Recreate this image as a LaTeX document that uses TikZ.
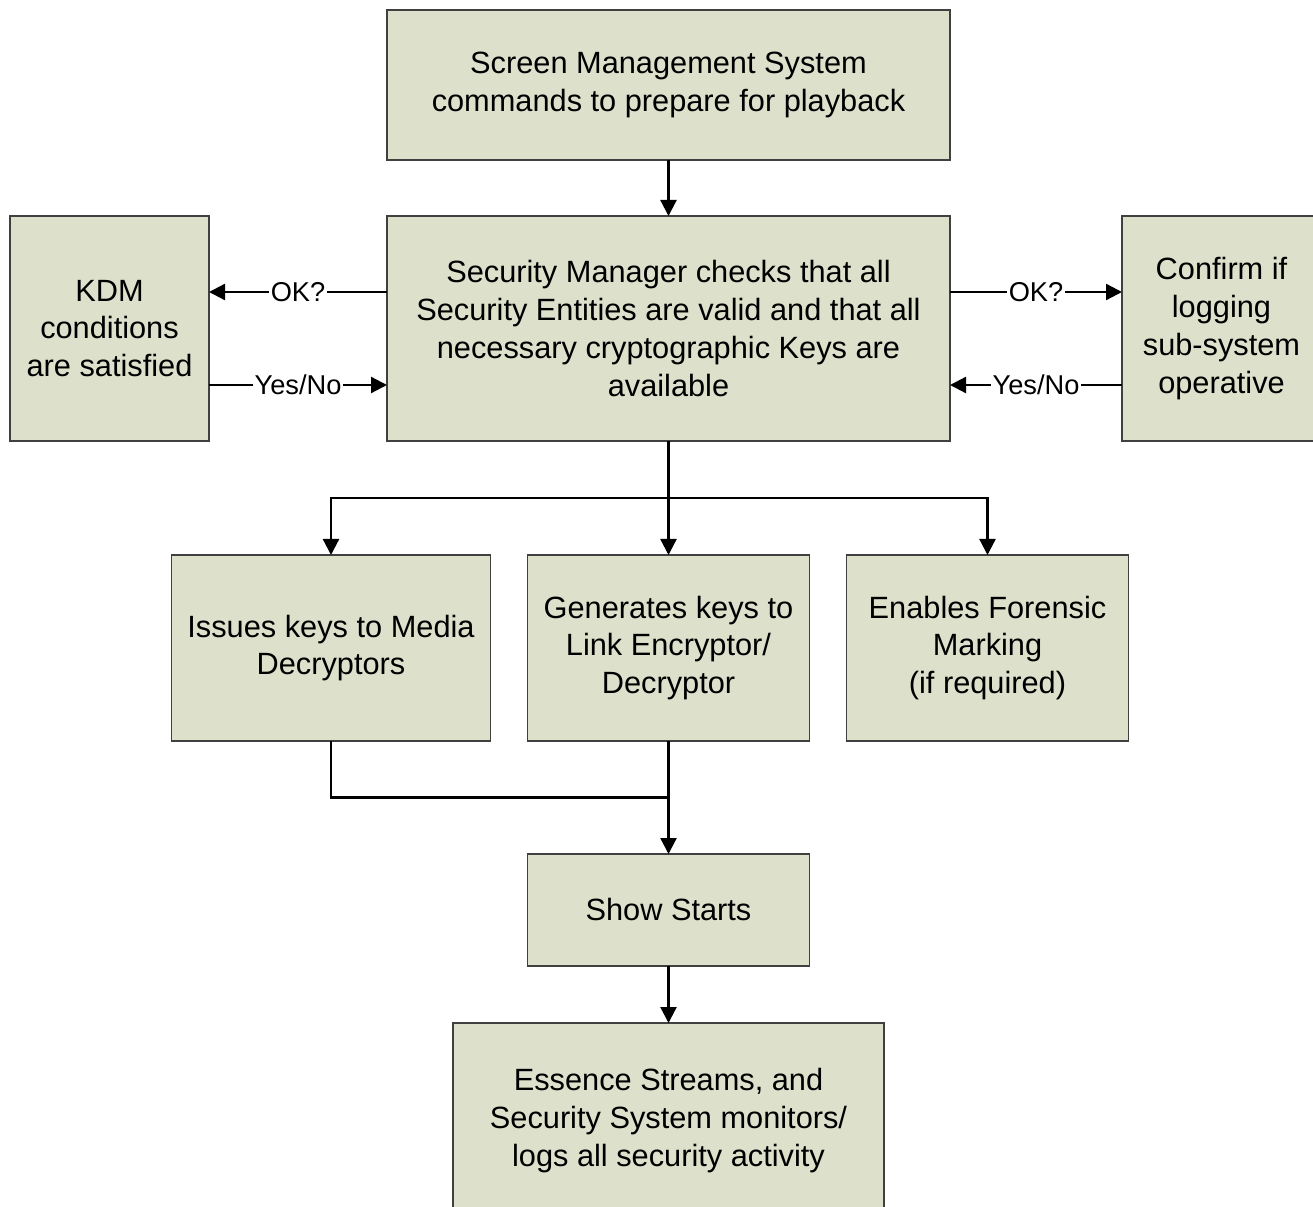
\documentclass[tikz,border=0pt]{standalone}
\usepackage{fontspec}
\setmainfont{Liberation Sans}
\usepackage{tikz}
\usetikzlibrary{arrows.meta,positioning,calc}
\usepackage{xcolor}
\definecolor{boxfill}{RGB}{221,224,203}
\definecolor{boxline}{RGB}{64,64,64}

\begin{document}
\begin{tikzpicture}[node distance=0mm, every node/.style={font=\fontsize{17.5}{21.5}\selectfont},
	stepbox/.style={draw=boxline,rectangle,fill=boxfill,line width=1.1pt,align=center,inner sep=2pt,outer sep=0pt},
	conn/.style={line width=1.3pt,black},
	arr/.style={conn,-{Triangle[length=3.2mm,width=3.2mm]}},
	lbl/.style={fill=white,inner sep=1pt,font=\fontsize{15.5}{17}\selectfont}]
				\useasboundingbox (0,0) rectangle (26.26,-24.14);
				
				% Preparazione
				\node[stepbox,minimum width=11.26cm,minimum height=3cm] (prep) at (13.37,-1.7) {Screen Management System\\commands to prepare for playback};
				
				% Security Manager
				\node[stepbox,below=1.12cm of prep,minimum width=11.26cm,minimum height=4.5cm] (check) {Security Manager checks that all\\Security Entities are valid and that all\\necessary cryptographic Keys are\\available};
				\node[stepbox,left=3.56cm of check,minimum width=3.98cm,minimum height=4.5cm] (kdm) {KDM\\conditions\\are satisfied};
				\node[stepbox,right=3.44cm of check,minimum width=3.98cm,minimum height=4.5cm] (log) {Confirm if\\logging\\sub-system\\operative};
				
				% Chiavi
				\node[stepbox,below=2.28cm of check,minimum width=5.64cm,minimum height=3.72cm] (gen) {Generates keys to\\Link Encryptor/\\Decryptor};
				\node[stepbox,left=0.74cm of gen,minimum width=6.38cm,minimum height=3.72cm] (issue) {Issues keys to Media\\Decryptors};
				\node[stepbox,right=0.74cm of gen,minimum width=5.64cm,minimum height=3.72cm] (forensic) {Enables Forensic\\Marking\\(if required)};
				
				% Show
				\node[stepbox,below=2.26cm of gen,minimum width=5.64cm,minimum height=2.24cm] (show) {Show Starts};
				\node[stepbox,below=1.14cm of show,minimum width=8.62cm,minimum height=3.9cm] (essence) {Essence Streams, and\\Security System monitors/\\logs all security activity};
				
				% Frecce
				\draw[arr] (prep) -- (check);
				\draw[arr] ([yshift=7.3mm]check.west) -- node[lbl] {OK?} ([yshift=7.3mm]kdm.east);
				\draw[arr] ([yshift=-11.3mm]kdm.east) -- node[lbl] {Yes/No} ([yshift=-11.3mm]check.west);
				\draw[arr] ([yshift=7.3mm]check.east) -- node[lbl] {OK?} ([yshift=7.3mm]log.west);
				\draw[arr] ([yshift=-11.3mm]log.west) -- node[lbl] {Yes/No} ([yshift=-11.3mm]check.east);
				
				\coordinate (split) at ($(check.south)+(0,-1.14)$);
				\draw[conn] (check.south) -- (split);
				\draw[arr] (split) -| (issue.north);
				\draw[arr] (split) -- (gen.north);
				\draw[arr] (split) -| (forensic.north);
				
				\coordinate (merge) at ($(gen.south)+(0,-1.13)$);
				\draw[conn] (issue.south) |- (merge);
				\draw[arr] (gen) -- (show);
				\draw[arr] (show) -- (essence);
			\end{tikzpicture}
\end{document}
